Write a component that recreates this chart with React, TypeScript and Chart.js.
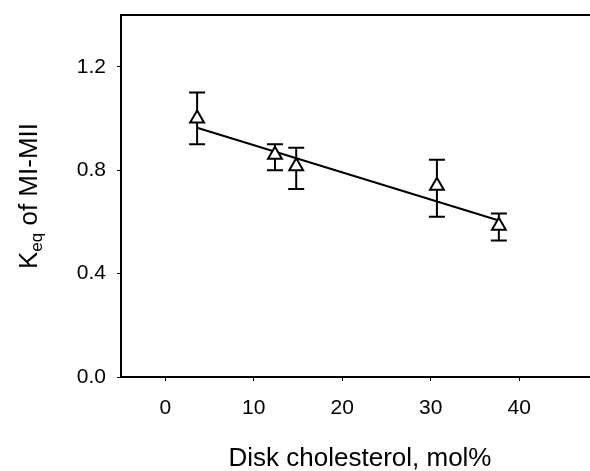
import React, { useEffect, useRef } from "react";
import { Chart, registerables } from "chart.js";

Chart.register(...registerables);

const X_VALUES = [3.6, 12.4, 14.8, 30.7, 37.7];
const Y_VALUES = [1.0, 0.86, 0.815, 0.74, 0.585];
const Y_ERR_HIGH = [1.1, 0.9, 0.887, 0.84, 0.632];
const Y_ERR_LOW = [0.9, 0.8, 0.727, 0.62, 0.528];
const FIT_X = [3.6, 37.7];
const FIT_Y = [0.964, 0.605];
const X_TICKS = [0, 10, 20, 30, 40];
const Y_TICKS = [0, 0.4, 0.8, 1.2];
const X_TITLE = "Disk cholesterol, mol%";
const Y_TITLE_MAIN = "K";
const Y_TITLE_SUB = "eq";
const Y_TITLE_REST = " of MI-MII";

const FONT = "'Liberation Sans', Arial, sans-serif";

export default function App() {
  const ref = useRef<HTMLCanvasElement | null>(null);
  useEffect(() => {
    document.body.style.margin = "0";
    const canvas = ref.current;
    if (!canvas) return;

    const overlay = {
      id: "overlay",
      beforeDatasetsDraw(chart: any) {
        const ctx = chart.ctx;
        const xs = chart.scales.x;
        const ys = chart.scales.y;
        ctx.save();
        ctx.strokeStyle = "#000";
        ctx.lineWidth = 2;
        for (let i = 0; i < X_VALUES.length; i++) {
          const px = xs.getPixelForValue(X_VALUES[i]);
          const hi = ys.getPixelForValue(Y_ERR_HIGH[i]);
          const lo = ys.getPixelForValue(Y_ERR_LOW[i]);
          ctx.beginPath();
          ctx.moveTo(px, hi);
          ctx.lineTo(px, lo);
          ctx.moveTo(px - 8, hi);
          ctx.lineTo(px + 8, hi);
          ctx.moveTo(px - 8, lo);
          ctx.lineTo(px + 8, lo);
          ctx.stroke();
        }
        ctx.restore();
      },
      afterDraw(chart: any) {
        const ctx = chart.ctx;
        const ca = chart.chartArea;
        ctx.save();
        // top frame line
        ctx.strokeStyle = "#000";
        ctx.lineWidth = 2;
        ctx.beginPath();
        ctx.moveTo(ca.left - 1, ca.top);
        ctx.lineTo(ca.right + 2, ca.top);
        ctx.stroke();

        ctx.fillStyle = "#000";
        // x title
        ctx.font = `26px ${FONT}`;
        ctx.textAlign = "center";
        ctx.textBaseline = "alphabetic";
        ctx.fillText(X_TITLE, 360, 466);
        // y title rotated with subscript
        const mainFont = `26px ${FONT}`;
        const subFont = `17px ${FONT}`;
        ctx.font = mainFont;
        const wK = ctx.measureText(Y_TITLE_MAIN).width;
        ctx.font = subFont;
        const wSub = ctx.measureText(Y_TITLE_SUB).width;
        ctx.font = mainFont;
        const wRest = ctx.measureText(Y_TITLE_REST).width;
        const total = wK + wSub + wRest;
        ctx.translate(37, 196);
        ctx.rotate(-Math.PI / 2);
        ctx.textAlign = "left";
        let x0 = -total / 2;
        ctx.font = mainFont;
        ctx.fillText(Y_TITLE_MAIN, x0, 0);
        x0 += wK;
        ctx.font = subFont;
        ctx.fillText(Y_TITLE_SUB, x0, 5);
        x0 += wSub;
        ctx.font = mainFont;
        ctx.fillText(Y_TITLE_REST, x0, 0);
        ctx.restore();
      },
    };

    const chart = new Chart(canvas, {
      type: "scatter",
      data: {
        datasets: [
          {
            type: "line",
            data: FIT_X.map((x, i) => ({ x, y: FIT_Y[i] })),
            borderColor: "#000",
            borderWidth: 2,
            pointRadius: 0,
            fill: false,
            order: 2,
          },
          {
            data: X_VALUES.map((x, i) => ({ x, y: Y_VALUES[i] })),
            pointStyle: "triangle",
            pointRadius: 8,
            pointBackgroundColor: "#fff",
            pointBorderColor: "#000",
            pointBorderWidth: 2,
            order: 1,
          },
        ],
      } as any,
      options: {
        animation: false,
        responsive: false,
        events: [],
        layout: { autoPadding: false, padding: { top: 15, right: 0, left: 0, bottom: 0 } },
        plugins: {
          legend: { display: false },
          tooltip: { enabled: false },
        },
        scales: {
          x: {
            type: "linear",
            min: -5,
            max: 48,
            afterBuildTicks: (s: any) => {
              s.ticks = X_TICKS.map((v) => ({ value: v }));
            },
            afterFit: (s: any) => {
              s.height = 94;
              s.paddingLeft = 0;
              s.paddingRight = 0;
            },
            grid: {
              display: true,
              drawOnChartArea: false,
              drawTicks: true,
              tickLength: 4,
              color: "#000",
              lineWidth: 1,
            },
            border: { display: true, color: "#000", width: 2 },
            ticks: {
              color: "#000",
              font: { family: FONT, size: 21 },
              padding: 15,
              maxRotation: 0,
              callback: (v: any) => String(v),
            },
          },
          y: {
            type: "linear",
            min: 0,
            max: 1.4,
            afterBuildTicks: (s: any) => {
              s.ticks = Y_TICKS.map((v) => ({ value: v }));
            },
            afterFit: (s: any) => {
              s.width = 121;
              s.paddingTop = 0;
              s.paddingBottom = 0;
            },
            grid: {
              display: true,
              drawOnChartArea: false,
              drawTicks: true,
              tickLength: 4,
              color: "#000",
              lineWidth: 1,
            },
            border: { display: true, color: "#000", width: 2 },
            ticks: {
              color: "#000",
              font: { family: FONT, size: 21 },
              padding: 11,
              callback: (v: any) => Number(v).toFixed(1),
            },
          },
        },
      } as any,
      plugins: [overlay],
    });
    return () => chart.destroy();
  }, []);
  return <canvas ref={ref} width={590} height={471} style={{ display: "block" }} />;
}
